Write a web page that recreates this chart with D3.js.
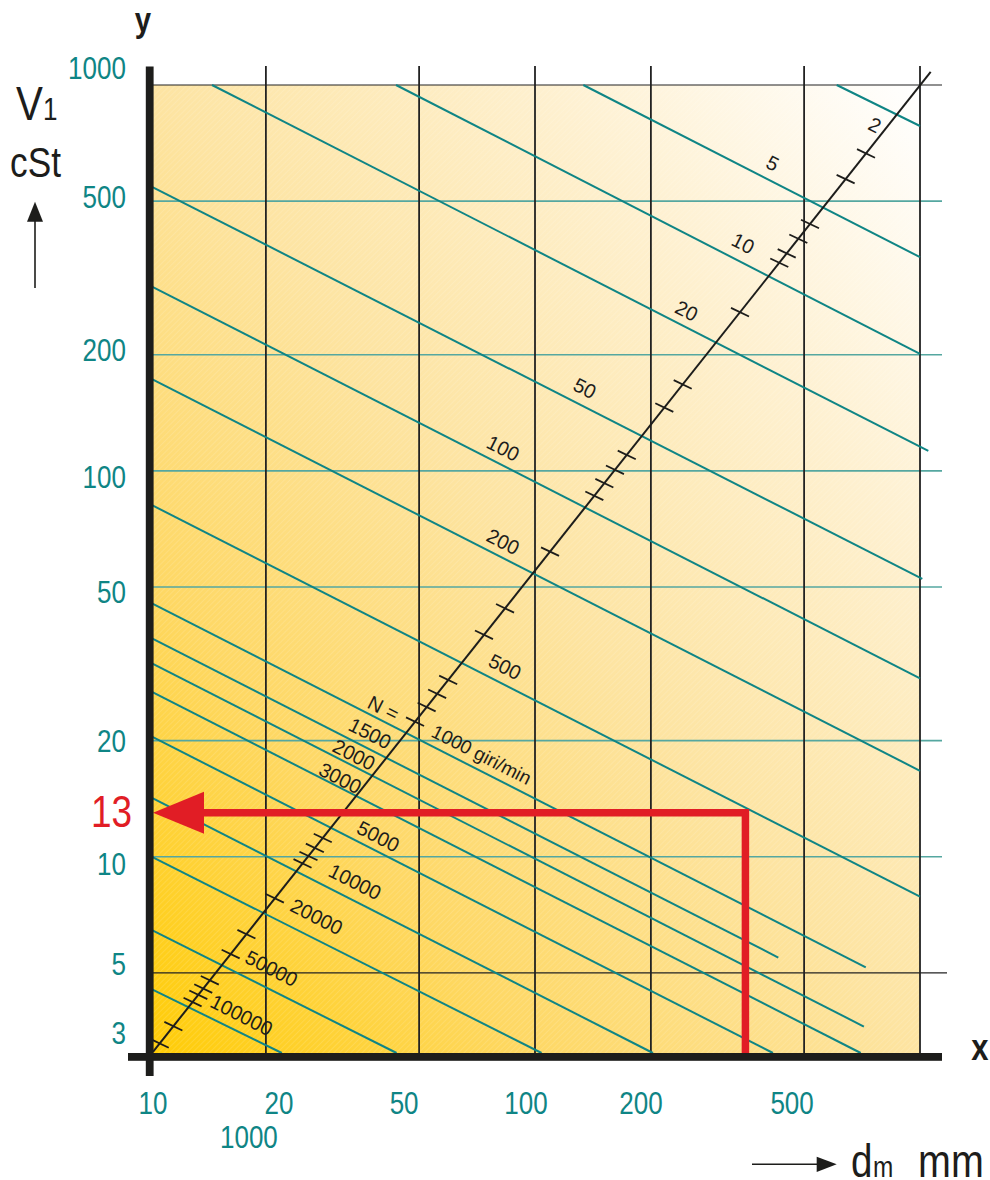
<!DOCTYPE html>
<html>
<head>
<meta charset="utf-8">
<script src="https://d3js.org/d3.v7.min.js"></script>
<style>
	body { margin: 0; background: #fff; }
	svg text { font-family: "Liberation Sans", Arial, sans-serif; }
</style>
</head>
<body>
<script>
// axis ticks
var xTicks = [10, 20, 50, 100, 200, 500];
var yTicks = [1000, 500, 200, 100, 50, 20, 10, 5, 3];
var xGrid = [20, 50, 100, 200, 500, 1000];
var yGridTeal = [500, 200, 100, 50, 20, 10];
var yGridBlack = [1000, 5];

// speed lines (N, giri/min): start and end points [dm mm, V1 cSt]
var speeds = [2, 5, 10, 20, 50, 100, 200, 500, 1000, 1500, 2000, 3000, 5000, 10000, 20000, 50000, 100000];
var startDm = [607.6, 133.5, 43.55, 14.49, 10, 10, 10, 10, 10, 10, 10, 10, 10, 10, 10, 10, 10];
var startNu = [1000, 1000, 1000, 1000, 548, 302, 174, 82, 45.6, 37, 31.9, 26.9, 20.6, 14.3, 10.05, 6.49, 4.56];
var endDm = [1000, 1000, 1000, 1051, 1014, 1000, 1000, 1000, 723, 428.5, 715, 701.5, 415, 202.5, 104, 43.7, 22];
var endNu = [783, 358, 201, 112.6, 52.5, 29, 16.7, 7.88, 5.17, 5.48, 3.63, 3.1, 3.1, 3.1, 3.1, 3.1, 3.1];

// labels of the speed lines
var speedLabels = ["2", "5", "10", "20", "50", "100", "200", "500", "1000 giri/min", "1500", "2000", "3000", "5000", "10000", "20000", "50000", "100000"];
var labelDm = [764, 414.3, 347.5, 247.7, 134.9, 82.7, 82.7, 83.6, 72.7, 37.3, 33.9, 31.2, 39.2, 34.1, 27.1, 20.7, 17.3];
var labelNu = [788, 627, 389, 260.2, 163.8, 114.5, 65.6, 31.1, 18.4, 20.9, 18.4, 16.0, 11.3, 8.62, 7.0, 5.14, 3.89];

// speed scale line and its ticks (by dm)
var scaleLineDm = [10.18, 1066];
var scaleLineNu = [3.12, 1081];
var scaleTickDm = [724, 641, 518, 483, 450.6, 431, 340.8, 241.9, 216.7, 173.1, 161.3, 151.4, 142.6, 109.4,
	83.6, 73.7, 59.5, 55.7, 52.3, 48.8, 28.1, 26.8, 25.8, 24.9, 21.1, 17.8, 16.2, 14.3, 13.75, 13.35, 12.9, 11.5, 10.6];

// example reading
var exampleDm = 352;
var exampleNu = 13;
var nuMin = 3.1;

var w = 990;
var h = 1180;
var teal = "#0f8585";
var ink = "#1d1d1b";
var narrow = 0.84;

var x = d3.scaleLog().domain([10, 1000]).range([150, 920]);
var y = d3.scaleLog().domain([nuMin, 1000]).range([1053, 85]);

//Create SVG element
var svg = d3.select("body")
			.append("svg")
			.attr("width", w)
			.attr("height", h);

// condensed text helper
function ctext(px, py, size, anchor, fill, str) {
	return svg.append("text")
		.attr("transform", "translate(" + px + "," + py + ") scale(" + narrow + ",1)")
		.attr("text-anchor", anchor)
		.attr("font-size", size)
		.attr("fill", fill)
		.text(str);
}

var defs = svg.append("defs");
var grad = defs.append("linearGradient")
	.attr("id", "bg")
	.attr("x1", 0).attr("y1", 1)
	.attr("x2", 1).attr("y2", 0);
grad.append("stop").attr("offset", 0).attr("stop-color", "#ffcc05");
grad.append("stop").attr("offset", 0.25).attr("stop-color", "#fed865");
grad.append("stop").attr("offset", 0.5).attr("stop-color", "#fde4a2");
grad.append("stop").attr("offset", 0.75).attr("stop-color", "#fef0cf");
grad.append("stop").attr("offset", 1).attr("stop-color", "#ffffff");

var hatch = defs.append("pattern")
	.attr("id", "hatch")
	.attr("patternUnits", "userSpaceOnUse")
	.attr("width", 4).attr("height", 4)
	.attr("patternTransform", "rotate(45)");
hatch.append("line")
	.attr("x1", 0).attr("y1", 0).attr("x2", 0).attr("y2", 4)
	.attr("stroke", "#fff").attr("stroke-width", 1).attr("stroke-opacity", 0.25);

var plotL = x(10), plotR = x(1000), plotT = y(1000), plotB = y(nuMin);

//background
svg.append("rect")
	.attr("x", plotL).attr("y", plotT)
	.attr("width", plotR - plotL).attr("height", plotB - plotT)
	.attr("fill", "url(#bg)");
svg.append("rect")
	.attr("x", plotL).attr("y", plotT)
	.attr("width", plotR - plotL).attr("height", plotB - plotT)
	.attr("fill", "url(#hatch)");

//horizontal grid
svg.selectAll("line.hteal")
	.data(yGridTeal)
	.enter()
	.append("line")
	.attr("class", "hteal")
	.attr("x1", plotL).attr("x2", plotR + 22)
	.attr("y1", function(d) { return y(d); })
	.attr("y2", function(d) { return y(d); })
	.attr("stroke", "#55a7a0")
	.attr("stroke-width", 1.6);

svg.selectAll("line.hblack")
	.data(yGridBlack)
	.enter()
	.append("line")
	.attr("class", "hblack")
	.attr("x1", plotL)
	.attr("x2", function(d, i) { return plotR + (i == 0 ? 22 : 27); })
	.attr("y1", function(d) { return y(d); })
	.attr("y2", function(d) { return y(d); })
	.attr("stroke", "#222")
	.attr("stroke-width", 1.2);

//vertical grid
svg.selectAll("line.vgrid")
	.data(xGrid)
	.enter()
	.append("line")
	.attr("class", "vgrid")
	.attr("x1", function(d) { return x(d); })
	.attr("x2", function(d) { return x(d); })
	.attr("y1", plotT - 19)
	.attr("y2", plotB)
	.attr("stroke", "#222")
	.attr("stroke-width", 1.8);

//speed lines
var lineGen = d3.line()
	.x(function(d) { return x(d[0]); })
	.y(function(d) { return y(d[1]); });

svg.selectAll("path.speed")
	.data(speeds)
	.enter()
	.append("path")
	.attr("class", "speed")
	.attr("d", function(d, i) {
		return lineGen([[startDm[i], startNu[i]], [endDm[i], endNu[i]]]);
	})
	.attr("fill", "none")
	.attr("stroke", teal)
	.attr("stroke-width", 2);

//speed scale line
var onLineY = d3.scaleLog()
	.domain(scaleLineDm)
	.range([y(scaleLineNu[0]), y(scaleLineNu[1])]);

svg.append("path")
	.attr("d", lineGen([[scaleLineDm[0], scaleLineNu[0]], [scaleLineDm[1], scaleLineNu[1]]]))
	.attr("stroke", ink)
	.attr("stroke-width", 2);

svg.selectAll("line.stick")
	.data(scaleTickDm)
	.enter()
	.append("line")
	.attr("class", "stick")
	.attr("x1", function(d) { return x(d) - 9; })
	.attr("x2", function(d) { return x(d) + 9; })
	.attr("y1", function(d) { return onLineY(d) - 4.3; })
	.attr("y2", function(d) { return onLineY(d) + 4.3; })
	.attr("stroke", ink)
	.attr("stroke-width", 1.8);

//speed labels
svg.selectAll("text.slabel")
	.data(speedLabels)
	.enter()
	.append("text")
	.attr("class", "slabel")
	.attr("transform", function(d, i) {
		return "translate(" + x(labelDm[i]) + "," + y(labelNu[i]) + ") rotate(27)";
	})
	.attr("text-anchor", "middle")
	.attr("dy", "0.36em")
	.attr("font-size", function(d) { return d.length > 6 ? 19 : 20; })
	.attr("fill", ink)
	.text(function(d) { return d; });

svg.append("text")
	.attr("transform", "translate(" + x(40.4) + "," + y(24.3) + ") rotate(27)")
	.attr("text-anchor", "middle")
	.attr("dy", "0.36em")
	.attr("font-size", 20)
	.attr("fill", ink)
	.text("N =");

//red example
var red = "#e11d25";
svg.append("path")
	.attr("d", lineGen([[exampleDm, nuMin], [exampleDm, exampleNu], [13.3, exampleNu]]))
	.attr("fill", "none")
	.attr("stroke", red)
	.attr("stroke-width", 7.5)
	.attr("stroke-linejoin", "miter");

var ax = x(10) + 3, ay = y(exampleNu);
svg.append("path")
	.attr("d", "M" + ax + "," + ay + "L" + (ax + 51) + "," + (ay - 21) + "L" + (ax + 51) + "," + (ay + 21) + "Z")
	.attr("fill", red);

ctext(132, ay + 14, 44, "end", red, exampleNu);

//axes
svg.append("rect")
	.attr("x", x(10) - 4.2).attr("y", plotT - 18.5)
	.attr("width", 7.8).attr("height", plotB - plotT + 41.5)
	.attr("fill", ink);
svg.append("rect")
	.attr("x", x(10) - 22).attr("y", plotB)
	.attr("width", plotR - plotL + 44).attr("height", 7.8)
	.attr("fill", ink);

//tick labels
var yNudge = {1000: -17, 500: -4, 200: -5, 100: 6, 50: 5, 20: 0, 10: 7, 5: -9, 3: -25};
yTicks.forEach(function(d) {
	ctext(126, y(d) + yNudge[d] + 11, 31, "end", teal, d);
});

var xNudge = {10: 3, 20: 13, 50: -15, 100: -9, 200: -10, 500: -12};
xTicks.forEach(function(d) {
	ctext(x(d) + xNudge[d], 1114, 31, "middle", teal, d);
});
ctext(x(20) - 17, 1148, 31, "middle", teal, "1000");

//axis titles
ctext(143, 32, 35, "middle", ink, "y").attr("font-weight", "bold");
ctext(980, 1060, 37, "middle", ink, "x").attr("font-weight", "bold");

ctext(16, 120, 48, "start", ink, "V");
ctext(43, 120, 31, "start", ink, "1");
ctext(10, 177, 42, "start", ink, "cSt");

svg.append("line")
	.attr("x1", 35).attr("x2", 35).attr("y1", 288).attr("y2", 218)
	.attr("stroke", ink).attr("stroke-width", 1.6);
svg.append("path")
	.attr("d", "M35,201.7L27,221.7L43,221.7Z")
	.attr("fill", ink);

svg.append("line")
	.attr("x1", 752).attr("x2", 820).attr("y1", 1164.3).attr("y2", 1164.3)
	.attr("stroke", ink).attr("stroke-width", 1.6);
svg.append("path")
	.attr("d", "M836.7,1164.3L816.7,1156.7L816.7,1171.9Z")
	.attr("fill", ink);

ctext(851, 1177, 46, "start", ink, "d");
ctext(873, 1177, 29, "start", ink, "m");
ctext(918, 1177, 47, "start", ink, "mm");
</script>
</body>
</html>
